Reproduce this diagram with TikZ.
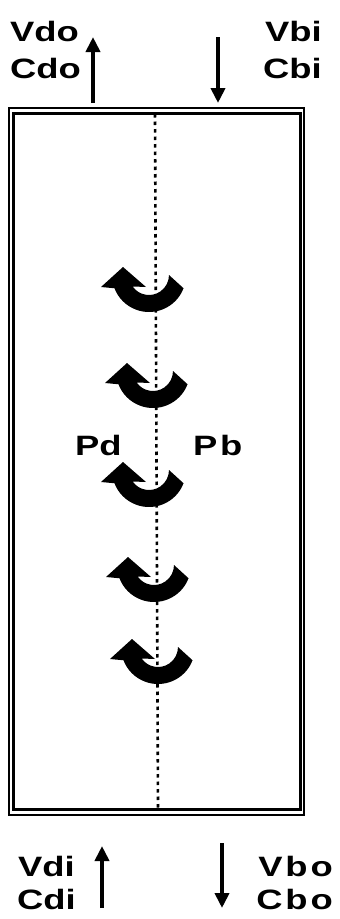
\documentclass[tikz,border=0pt]{standalone}
\usepackage{fontspec}
\newfontfamily\lab[FakeStretch=1.3]{Liberation Sans Bold}
\usetikzlibrary{arrows.meta}
\tikzset{
  lbl/.style={inner sep=0pt, font=\lab\fontsize{28}{28}\selectfont},
  flow/.style={line width=4.5pt, -{Triangle[width=14pt,length=15pt]}},
  curl/.pic={
    \fill (-26,8) -- (-3,-12) -- (215:20) arc[start angle=215,end angle=360,radius=20]
      -- (339:37) arc[start angle=339,end angle=201,radius=37] -- (-48,-12) -- cycle;
  }
}
\begin{document}
\begin{tikzpicture}[x=1pt,y=1pt]
\useasboundingbox (0,0) rectangle (340,-919);
% box
\draw[line width=2pt] (9,-108) rectangle (304,-815);
\draw[line width=3pt] (13.5,-113) rectangle (300,-809);
% dotted centre line
\coordinate (dtop) at (155,-114);
\coordinate (dbot) at (158,-808);
\draw[line width=2.6pt, dash pattern=on 3.5pt off 4pt] (dtop) -- (dbot);
% curled arrows
\pic at (149,-275) {curl};
\pic at (153,-371) {curl};
\pic at (149,-470) {curl};
\pic at (154,-565) {curl};
\pic at (158,-647) {curl};
% labels
\node[lbl, anchor=base west] (vdo) at (10,-41) {Vdo};
\node[lbl, anchor=base west] (cdo) at (10,-78) {Cdo};
\node[lbl, anchor=base east] (vbi) at (322,-41) {Vbi};
\node[lbl, anchor=base east] (cbi) at (322,-78) {Cbi};
\node[lbl, anchor=base west] (pd) at (75,-455) {Pd};
\node[lbl, anchor=base west] (pb) at (193,-455) {\addfontfeatures{LetterSpace=10}Pb};
\node[lbl, anchor=base west] (vdi) at (18,-876) {Vdi};
\node[lbl, anchor=base west] (cdi) at (17,-909) {Cdi};
\node[lbl, anchor=base east] (vbo) at (333,-876) {\addfontfeatures{LetterSpace=10}Vbo};
\node[lbl, anchor=base east] (cbo) at (333,-909) {\addfontfeatures{LetterSpace=10}Cbo};
% flow arrows
\coordinate (a1s) at (93,-103); \coordinate (a1e) at (93,-37);
\coordinate (a2s) at (218,-37); \coordinate (a2e) at (218,-103);
\coordinate (a3s) at (102,-908); \coordinate (a3e) at (102,-846);
\coordinate (a4s) at (222,-843); \coordinate (a4e) at (222,-908);
\draw[flow] (a1s) -- (a1e);
\draw[flow] (a2s) -- (a2e);
\draw[flow] (a3s) -- (a3e);
\draw[flow] (a4s) -- (a4e);
\end{tikzpicture}
\end{document}
